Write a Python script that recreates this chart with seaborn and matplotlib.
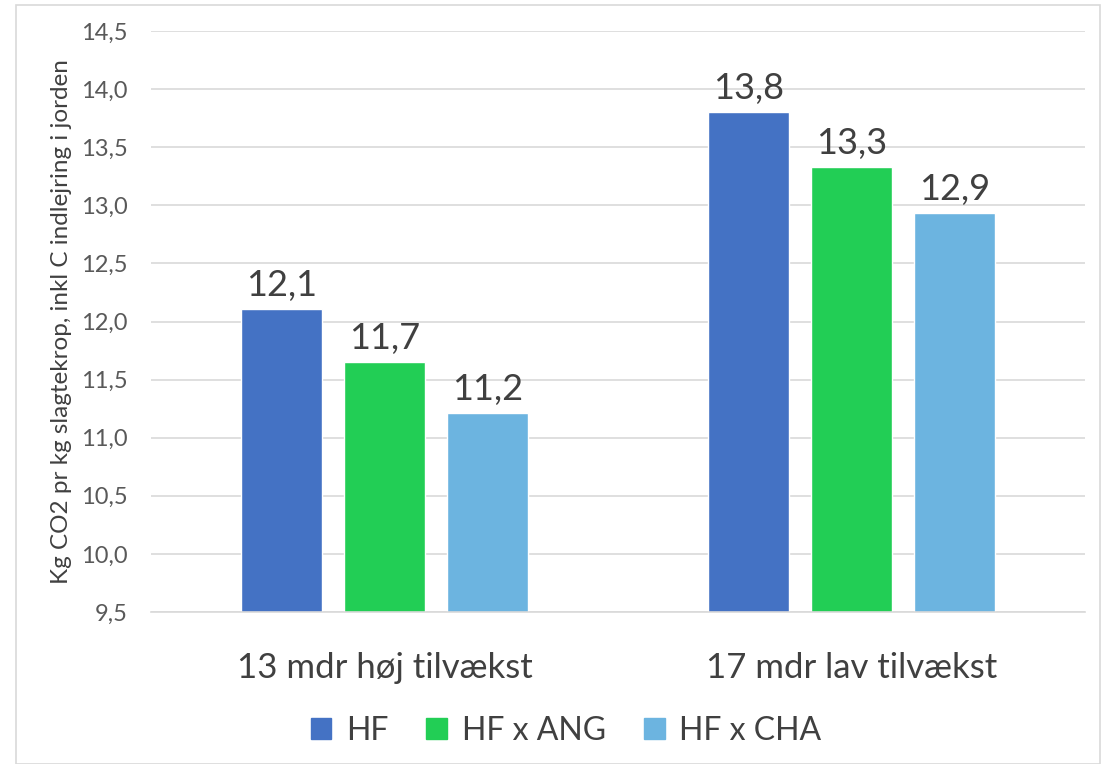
import pandas as pd
import seaborn as sns
import matplotlib.pyplot as plt
from matplotlib.patches import Rectangle

# values
groups = ['13 mdr høj tilvækst', '17 mdr lav tilvækst']
breeds = ['HF', 'HF x ANG', 'HF x CHA']
hf = [12.11, 13.80]
hf_ang = [11.65, 13.33]
hf_cha = [11.21, 12.93]
labels = [['12,1', '13,8'], ['11,7', '13,3'], ['11,2', '12,9']]
colors = ['#4472C4', '#22CE55', '#6CB4E0']
yticks = [9.5, 10.0, 10.5, 11.0, 11.5, 12.0, 12.5, 13.0, 13.5, 14.0, 14.5]

df = pd.DataFrame({
    'group': groups * 3,
    'breed': [b for b in breeds for _ in groups],
    'value': hf + hf_ang + hf_cha,
})

sns.set_style('white')
plt.rcParams['font.family'] = ['Lato', 'DejaVu Sans']

fig = plt.figure(figsize=(11.06, 7.64), dpi=100)
ax = fig.add_axes([151 / 1106, 1 - 612 / 764, (1085 - 151) / 1106, (612 - 31) / 764])

sns.barplot(data=df, x='group', y='value', hue='breed', palette=colors,
            width=0.66, gap=0.21, saturation=1, ax=ax, legend=False)

for cont, labs in zip(ax.containers, labels):
    ax.bar_label(cont, labels=labs, padding=5, fontsize=26, color='#404040')

ax.set_ylim(9.5, 14.5)
ax.set_yticks(yticks)
ax.set_yticklabels([f'{t:.1f}'.replace('.', ',') for t in yticks], fontsize=17, color='#595959')
ax.tick_params(axis='y', length=0, pad=17)
ax.tick_params(axis='x', length=0, pad=29, labelsize=25, labelcolor='#404040')
ax.set_xlabel('')
ax.set_ylabel('Kg CO2 pr kg slagtekrop, inkl C indlejring i jorden', fontsize=17.5, color='#404040', labelpad=6)
ax.yaxis.grid(True, color='#D9D9D9', linewidth=1.2)
ax.set_axisbelow(True)
for side in ['top', 'right', 'left']:
    ax.spines[side].set_visible(False)
ax.spines['bottom'].set_color('#D9D9D9')
ax.spines['bottom'].set_linewidth(1.2)

handles = [Rectangle((0, 0), 1, 1, color=c) for c in colors]
fig.legend(handles, breeds, loc='center', bbox_to_anchor=(566 / 1106, 1 - 731 / 764), ncol=3,
           frameon=False, fontsize=23, labelcolor='#404040', handlelength=0.65, handleheight=0.65,
           columnspacing=1.2, handletextpad=0.45)

fig.patches.append(Rectangle((16 / 1106, 0), (1100 - 16) / 1106, 1 - 5 / 764,
                             transform=fig.transFigure, fill=False, edgecolor='#D9D9D9', linewidth=1.2))

fig.savefig('out.png', dpi=100)
